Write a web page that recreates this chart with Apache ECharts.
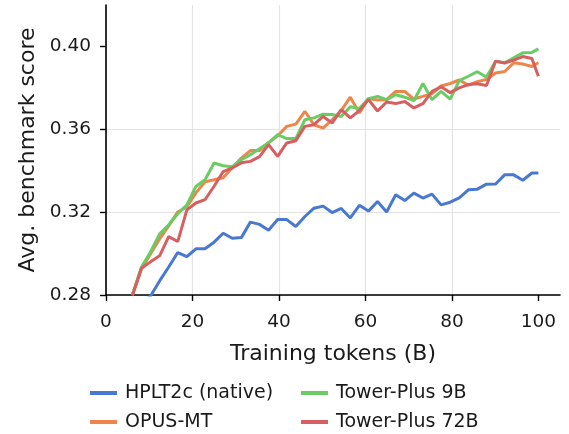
<!DOCTYPE html>
<html>
<head>
<meta charset="utf-8">
<script src="https://cdn.jsdelivr.net/npm/echarts@6/dist/echarts.min.js"></script>
<style>
  html, body { margin: 0; padding: 0; background: #fff; }
  #chart { width: 569px; height: 434px; }
</style>
</head>
<body>
<div id="chart"></div>
<script>
// training tokens (B) at each checkpoint
var tokens = [6.1, 8.2, 10.3, 12.4, 14.5, 16.6, 18.7, 20.8, 22.9, 25.0,
    27.1, 29.2, 31.3, 33.4, 35.5, 37.6, 39.7, 41.8, 43.9, 46.0,
    48.1, 50.2, 52.3, 54.4, 56.5, 58.6, 60.7, 62.8, 64.9, 67.0,
    69.1, 71.2, 73.3, 75.4, 77.5, 79.6, 81.7, 83.8, 85.9, 88.0,
    90.1, 92.2, 94.3, 96.4, 98.5, 100];

var hplt = [0.272, 0.276, 0.2795, 0.2868, 0.2935, 0.3005, 0.2985, 0.3023, 0.3023, 0.3055,
    0.3098, 0.3074, 0.3077, 0.3152, 0.3141, 0.3113, 0.3164, 0.3164, 0.3131, 0.3179,
    0.3219, 0.3229, 0.3198, 0.3218, 0.3172, 0.3233, 0.3205, 0.3251, 0.3201, 0.3284,
    0.3256, 0.3292, 0.3268, 0.3287, 0.3235, 0.3248, 0.3269, 0.3308, 0.3311, 0.3335,
    0.3336, 0.3380, 0.3380, 0.3354, 0.3389, 0.3389];

var opus = [0.2800, 0.2926, 0.2998, 0.3071, 0.3134, 0.3201, 0.3226, 0.3293, 0.3347, 0.3356,
    0.3366, 0.3414, 0.3461, 0.3497, 0.3497, 0.3535, 0.3569, 0.3614, 0.3625, 0.3687,
    0.3622, 0.3606, 0.3646, 0.3690, 0.3755, 0.3679, 0.3748, 0.3741, 0.3743, 0.3783,
    0.3783, 0.3746, 0.3759, 0.3772, 0.3809, 0.3821, 0.3838, 0.3813, 0.3830, 0.3840,
    0.3872, 0.3879, 0.3921, 0.3915, 0.3903, 0.3921];

var tower9 = [0.2800, 0.2935, 0.3008, 0.3095, 0.3139, 0.3192, 0.3235, 0.3324, 0.3356, 0.3437,
    0.3424, 0.3419, 0.3453, 0.3477, 0.3506, 0.3535, 0.3574, 0.3555, 0.3555, 0.3646,
    0.3655, 0.3673, 0.3671, 0.3662, 0.3709, 0.3700, 0.3748, 0.3759, 0.3743, 0.3767,
    0.3755, 0.3738, 0.3821, 0.3743, 0.3783, 0.3746, 0.3835, 0.3856, 0.3878, 0.3852,
    0.3928, 0.3921, 0.3945, 0.3969, 0.3971, 0.3988];

var tower72 = [0.2798, 0.2929, 0.2960, 0.2989, 0.3082, 0.3058, 0.3211, 0.3244, 0.3260, 0.3325,
    0.3396, 0.3413, 0.3438, 0.3445, 0.3468, 0.3526, 0.3469, 0.3534, 0.3545, 0.3614,
    0.3622, 0.3662, 0.3630, 0.3695, 0.3655, 0.3690, 0.3743, 0.3688, 0.3732, 0.3724,
    0.3734, 0.3703, 0.3724, 0.3783, 0.3805, 0.3777, 0.3800, 0.3816, 0.3820, 0.3811,
    0.3928, 0.3920, 0.3934, 0.3951, 0.3942, 0.3856];

var xTicks = [0, 20, 40, 60, 80, 100];
var yTicks = [0.28, 0.32, 0.36, 0.40];

var names = ['HPLT2c (native)', 'OPUS-MT', 'Tower-Plus 9B', 'Tower-Plus 72B'];
var colors = ['#4878d0', '#ee854a', '#6acc64', '#d65f5f'];

function pairs(vals) {
    return tokens.map(function(t, i) { return [t, vals[i]]; });
}

var font = 'DejaVu Sans';
var ink = '#1a1a1a';

function legendCol(left, items) {
    return {
        orient: 'vertical', left: left, top: 383, padding: 0, itemGap: 9,
        height: 60,
        icon: 'rect', itemWidth: 27, itemHeight: 4,
        textStyle: { fontSize: 19, color: ink, lineHeight: 20, padding: [0, 0, 0, 3] },
        data: items
    };
}

var chart = echarts.init(document.getElementById('chart'));
chart.setOption({
    animation: false,
    textStyle: { fontFamily: font },
    grid: { left: 106, top: 5, width: 454, height: 290 },
    xAxis: {
        type: 'value',
        min: 0,
        max: 105,
        name: 'Training tokens (B)',
        nameLocation: 'middle',
        nameGap: 48,
        nameTextStyle: { fontSize: 22, color: ink, fontFamily: font },
        axisLine: { lineStyle: { color: '#000', width: 1.6 } },
        axisTick: { show: true, length: 6, lineStyle: { color: '#000', width: 1.4 }, customValues: xTicks },
        axisLabel: { fontSize: 18.5, color: ink, margin: 18, customValues: xTicks },
        splitLine: { show: true, lineStyle: { color: '#e3e3e3', width: 1.2 }, showMaxLine: false }
    },
    yAxis: {
        type: 'value',
        min: 0.28,
        max: 0.42,
        name: 'Avg. benchmark score',
        nameLocation: 'middle',
        nameGap: 66,
        nameTextStyle: { fontSize: 22, color: ink, fontFamily: font },
        axisLine: { show: true, lineStyle: { color: '#000', width: 1.6 } },
        axisTick: { show: true, length: 6, lineStyle: { color: '#000', width: 1.4 }, customValues: yTicks },
        axisLabel: {
            fontSize: 18.5, color: ink, margin: 15, customValues: yTicks,
            formatter: function(v) { return v.toFixed(2); }
        },
        splitLine: { show: true, lineStyle: { color: '#e3e3e3', width: 1.2 }, showMaxLine: false }
    },
    legend: [
        legendCol(90, [names[0], names[1]]),
        legendCol(301, [names[2], names[3]])
    ],
    series: [hplt, opus, tower9, tower72].map(function(vals, i) {
        return {
            name: names[i],
            type: 'line',
            data: pairs(vals),
            showSymbol: false,
            clip: true,
            color: colors[i],
            lineStyle: { width: 3, color: colors[i] }
        };
    })
});
</script>
</body>
</html>
